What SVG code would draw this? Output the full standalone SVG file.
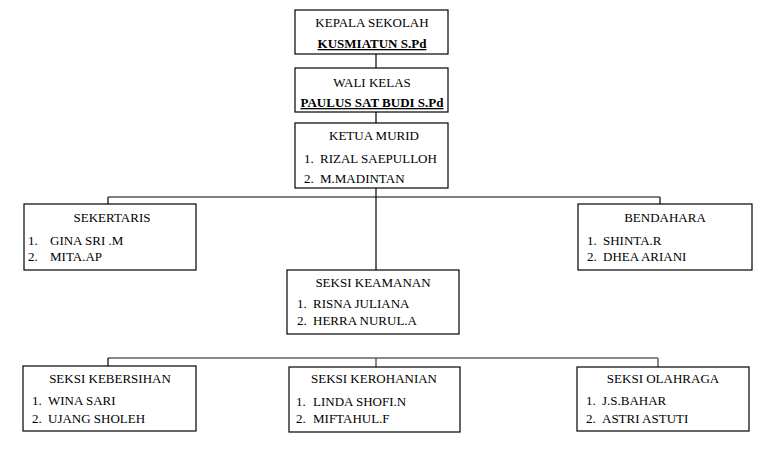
<svg xmlns="http://www.w3.org/2000/svg" width="768" height="451" viewBox="0 0 768 451">
<style>
text{font-family:"Liberation Serif","Times New Roman",serif;font-size:13px;fill:#000}
.t{text-anchor:middle}
.b{font-weight:bold;text-decoration:underline}
.box{fill:#fff;stroke:#000;stroke-width:1.2}
.g{stroke:#808080;stroke-width:2;fill:none}
.k{stroke:#000;stroke-width:1.2;fill:none}
.d{stroke:#606060;stroke-width:1.5;fill:none}
</style>
<rect width="768" height="451" fill="#fff"/>
<g id="connectors">
<line class="k" x1="376" y1="54" x2="376" y2="68"/>
<line class="k" x1="376" y1="112" x2="376" y2="123"/>
<line class="g" x1="108" y1="197" x2="660" y2="197"/>
<line class="k" x1="376" y1="188" x2="376" y2="270"/>
<line class="k" x1="108" y1="197" x2="108" y2="204"/>
<line class="k" x1="660" y1="197" x2="660" y2="204"/>
<line class="d" x1="108" y1="358" x2="658" y2="358"/>
<line class="k" x1="108" y1="358" x2="108" y2="366"/>
<line class="d" x1="376" y1="358" x2="376" y2="367"/>
<line class="d" x1="658" y1="358" x2="658" y2="367"/>
</g>
<g id="kepala">
<rect class="box" x="295" y="10" width="153" height="44"/>
<text class="t" x="372" y="27">KEPALA SEKOLAH</text>
<text class="t b" x="372" y="48">KUSMIATUN S.Pd</text>
</g>
<g id="wali">
<rect class="box" x="295" y="68" width="153" height="44"/>
<text class="t" x="372" y="87">WALI KELAS</text>
<text class="t b" x="372" y="107">PAULUS SAT BUDI S.Pd</text>
</g>
<g id="ketua">
<rect class="box" x="295" y="123" width="153" height="65"/>
<text class="t" x="374" y="140">KETUA MURID</text>
<text x="304" y="163">1.</text><text x="320" y="163">RIZAL SAEPULLOH</text>
<text x="304" y="183">2.</text><text x="320" y="183">M.MADINTAN</text>
</g>
<g id="sekertaris">
<rect class="box" x="24" y="204" width="172" height="66"/>
<text class="t" x="112" y="222">SEKERTARIS</text>
<text x="28" y="245">1.</text><text x="50" y="245">GINA SRI .M</text>
<text x="28" y="261">2.</text><text x="50" y="261">MITA.AP</text>
</g>
<g id="bendahara">
<rect class="box" x="578" y="204" width="174" height="66"/>
<text class="t" x="665" y="222">BENDAHARA</text>
<text x="587" y="245">1.</text><text x="603" y="245">SHINTA.R</text>
<text x="587" y="261">2.</text><text x="603" y="261">DHEA ARIANI</text>
</g>
<g id="keamanan">
<rect class="box" x="287" y="270" width="172" height="64"/>
<text class="t" x="373" y="287">SEKSI KEAMANAN</text>
<text x="297" y="308">1.</text><text x="313" y="308">RISNA JULIANA</text>
<text x="297" y="325">2.</text><text x="313" y="325">HERRA NURUL.A</text>
</g>
<g id="kebersihan">
<rect class="box" x="23" y="366" width="173" height="65"/>
<text class="t" x="110" y="383">SEKSI KEBERSIHAN</text>
<text x="32" y="405">1.</text><text x="48" y="405">WINA SARI</text>
<text x="32" y="423">2.</text><text x="48" y="423">UJANG SHOLEH</text>
</g>
<g id="kerohanian">
<rect class="box" x="289" y="367" width="171" height="65"/>
<text class="t" x="374" y="383">SEKSI KEROHANIAN</text>
<text x="296" y="406">1.</text><text x="313" y="406">LINDA SHOFI.N</text>
<text x="296" y="423">2.</text><text x="313" y="423">MIFTAHUL.F</text>
</g>
<g id="olahraga">
<rect class="box" x="577" y="367" width="172" height="64"/>
<text class="t" x="663" y="383">SEKSI OLAHRAGA</text>
<text x="586" y="405">1.</text><text x="602" y="405">J.S.BAHAR</text>
<text x="586" y="423">2.</text><text x="602" y="423">ASTRI ASTUTI</text>
</g>
</svg>
